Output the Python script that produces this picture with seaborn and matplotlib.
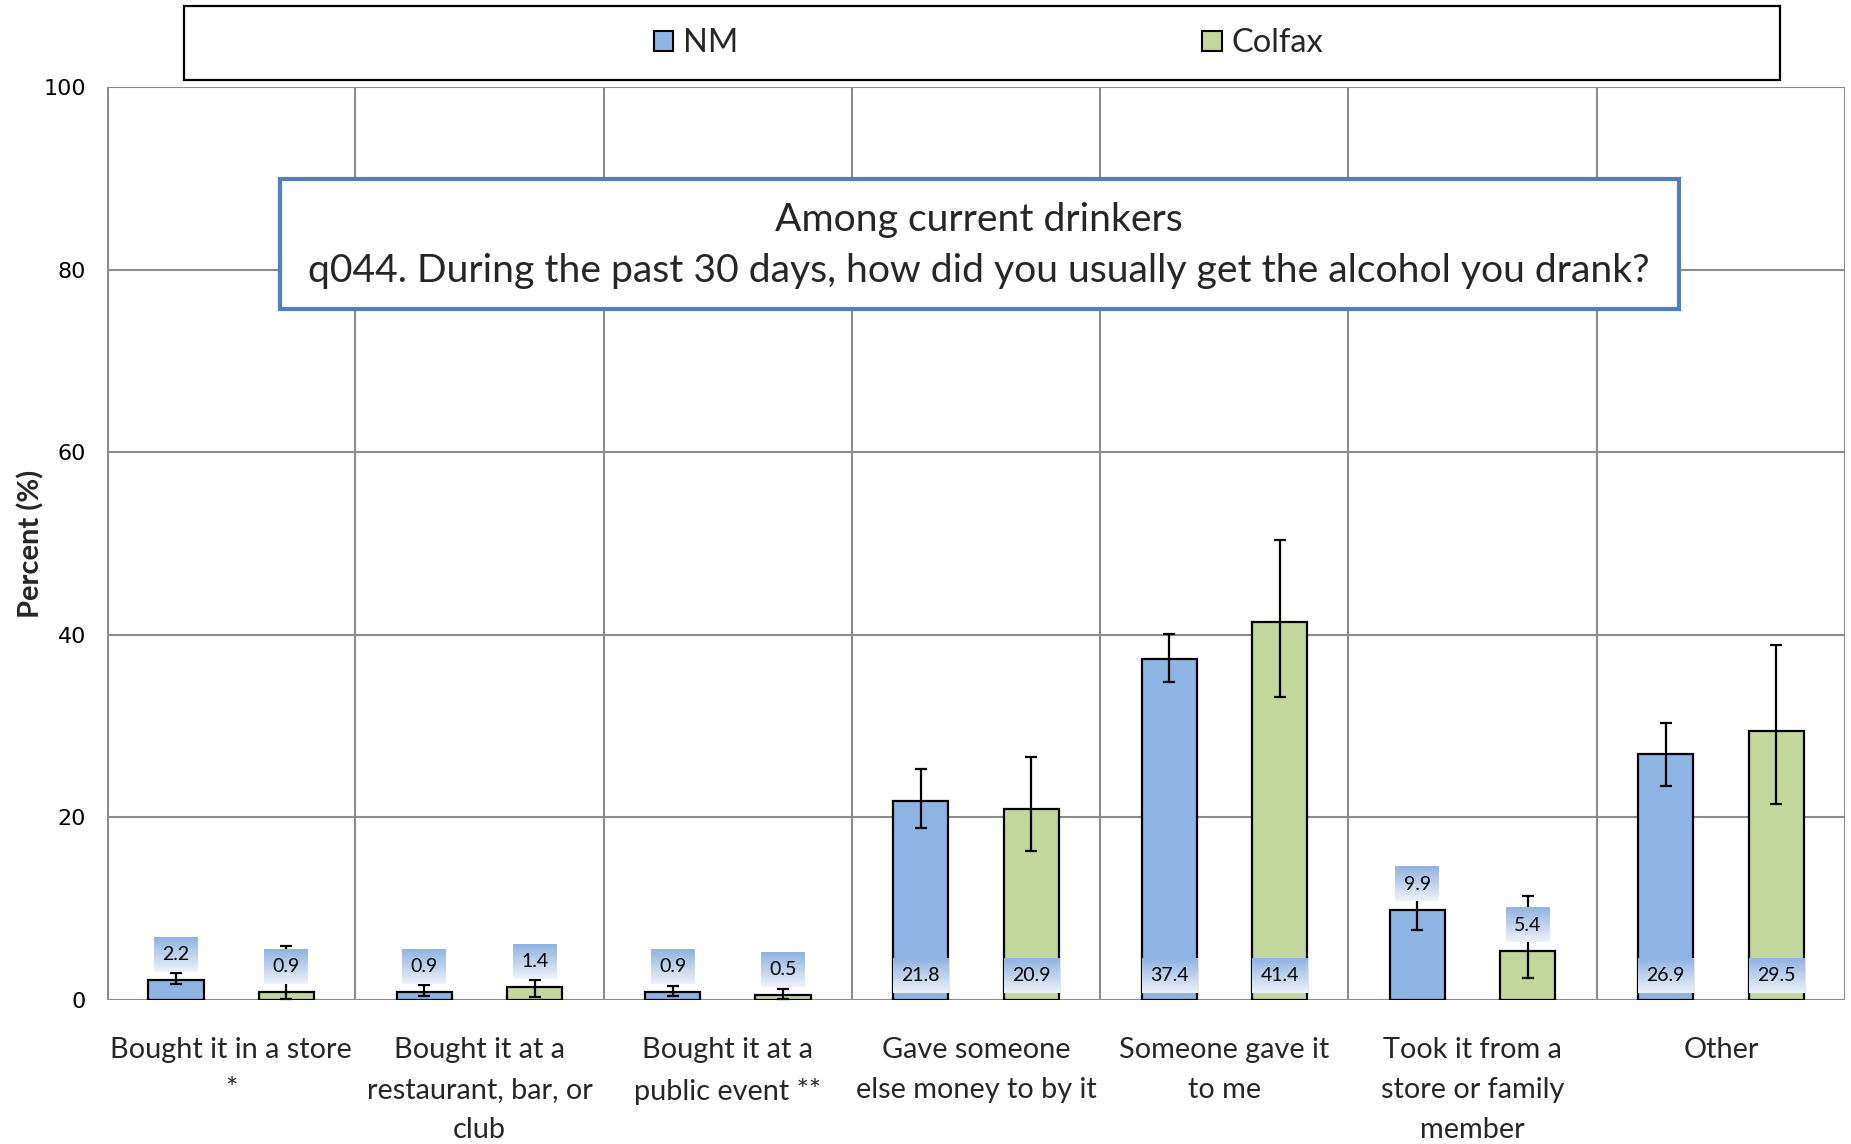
import numpy as np
import pandas as pd
import matplotlib
matplotlib.use("Agg")
import matplotlib.pyplot as plt
from matplotlib.patches import Rectangle
import seaborn as sns

# ---- data -------------------------------------------------------------
categories = [
    "Bought it in a store\n*",
    "Bought it at a\nrestaurant, bar, or\nclub",
    "Bought it at a\npublic event **",
    "Gave someone\nelse money to by it",
    "Someone gave it\nto me",
    "Took it from a\nstore or family\nmember",
    "Other",
]
sites = ["NM", "Colfax"]
nm_pct = [2.2, 0.9, 0.9, 21.8, 37.4, 9.9, 26.9]
colfax_pct = [0.9, 1.4, 0.5, 20.9, 41.4, 5.4, 29.5]
nm_lo = [1.7, 0.4, 0.45, 18.8, 34.8, 7.7, 23.4]
nm_hi = [3.0, 1.6, 1.5, 25.3, 40.1, 12.0, 30.4]
colfax_lo = [0.1, 0.35, 0.1, 16.3, 33.2, 2.4, 21.5]
colfax_hi = [5.9, 2.2, 1.25, 26.6, 50.4, 11.4, 38.9]
yticks = [0, 20, 40, 60, 80, 100]

title_lines = ["Among current drinkers",
               "q044. During the past 30 days, how did you usually get the alcohol you drank?"]

colors = {"NM": "#8EB4E3", "Colfax": "#C3D69B"}

df = pd.DataFrame({
    "category": categories * 2,
    "site": ["NM"] * len(categories) + ["Colfax"] * len(categories),
    "percent": nm_pct + colfax_pct,
})

# ---- figure -----------------------------------------------------------
sns.set_theme(style="white")
plt.rcParams["font.family"] = ["Lato", "DejaVu Sans"]

fig = plt.figure(figsize=(18.51, 11.44), dpi=100)
ax = fig.add_axes([0.0578, 0.1259, 0.9390, 0.7977])

sns.barplot(data=df, x="category", y="percent", hue="site", order=categories,
            hue_order=sites, palette=colors, width=0.889, gap=0.5,
            edgecolor="black", linewidth=1.6, errorbar=None, saturation=1,
            ax=ax, zorder=2)
bar_groups = list(ax.containers)

ax.set_xlim(-0.5, len(categories) - 0.5)
ax.set_ylim(0, 100)

# grid: horizontal at y ticks, vertical at category boundaries
grid_c = "#8C8C8C"
ax.set_yticks(yticks)
ax.set_yticklabels([str(t) for t in yticks], family="DejaVu Sans", fontsize=16)
ax.yaxis.grid(True, color=grid_c, linewidth=1.5, zorder=0)
bounds = np.arange(-0.5, len(categories), 1.0)
ax.set_xticks(bounds, minor=True)
ax.xaxis.grid(True, which="minor", color=grid_c, linewidth=1.5, zorder=0)
ax.xaxis.grid(False, which="major")
ax.set_axisbelow(True)
ax.tick_params(axis="x", which="minor", length=8, width=1.5, color=grid_c, direction="out")
ax.tick_params(axis="x", which="major", length=0, pad=27)
ax.tick_params(axis="y", length=8, width=1.5, color=grid_c, direction="out", pad=7,
               labelcolor="black")
for lbl in ax.get_xticklabels():
    lbl.set_fontsize(20.8)
    lbl.set_linespacing(1.66)
    lbl.set_verticalalignment("top")
for s in ax.spines.values():
    s.set_visible(False)
ax.axhline(0, color=grid_c, linewidth=2.2, zorder=1)
ax.axvline(-0.5, color=grid_c, linewidth=2.2, zorder=1)

ax.set_xlabel("")
ax.set_ylabel("Percent (%)", fontsize=21, fontweight="bold", labelpad=-1)

# ---- error bars and value labels --------------------------------------
lows = [nm_lo, colfax_lo]
highs = [nm_hi, colfax_hi]
vals = [nm_pct, colfax_pct]
grad = np.linspace(0, 1, 64)[:, None, None]
top_c = np.array(matplotlib.colors.to_rgb("#8FB3E2"))
bot_c = np.array(matplotlib.colors.to_rgb("#EEF2FA"))
grad_img = top_c * (1 - grad) + bot_c * grad

for k, cont in enumerate(bar_groups):
    xs = [p.get_x() + p.get_width() / 2 for p in cont.patches]
    ws = [p.get_width() for p in cont.patches]
    v = np.array(vals[k])
    lo = np.array(lows[k])
    hi = np.array(highs[k])
    ax.errorbar(xs, v, yerr=[v - lo, hi - v], fmt="none", ecolor="black",
                elinewidth=1.6, capsize=4.5, capthick=1.6, zorder=3)
    for x, w, val in zip(xs, ws, v):
        if val < 15:
            yc = val + 2.8
            y0, y1 = yc - 1.9, yc + 1.9
            bw = 0.177
        else:
            y0, y1 = 0.8, 4.6
            yc = (y0 + y1) / 2
            bw = w
        ax.imshow(grad_img, extent=(x - bw / 2, x + bw / 2, y0, y1),
                  aspect="auto", origin="upper", zorder=4, interpolation="bilinear")
        ax.text(x, yc, f"{val:.1f}", ha="center", va="center", fontsize=14,
                color="black", zorder=5)

ax.set_xlim(-0.5, len(categories) - 0.5)
ax.set_ylim(0, 100)

# ---- question box ------------------------------------------------------
fig.add_artist(Rectangle((0.151, 0.730), 0.756, 0.1135, transform=fig.transFigure,
                         facecolor="white", edgecolor="#4F81BD", linewidth=3, zorder=10))
fig.text(0.529, 0.808, title_lines[0], ha="center", va="center", fontsize=28.2, zorder=11)
fig.text(0.529, 0.763, title_lines[1], ha="center", va="center", fontsize=28.2, zorder=11)

# ---- legend ------------------------------------------------------------
fig.add_artist(Rectangle((0.0994, 0.930), 0.8622, 0.0647, transform=fig.transFigure,
                         facecolor="white", edgecolor="black", linewidth=1.6, zorder=-1))
sns.move_legend(ax, loc="center", bbox_to_anchor=(0.534, 0.962),
                bbox_transform=fig.transFigure, ncol=2, frameon=False, title=None,
                fontsize=23.5, columnspacing=14.2, handlelength=0.6, handleheight=0.6,
                handletextpad=0.3)
leg = ax.get_legend()
leg.set_zorder(20)
for h in leg.legend_handles:
    h.set_edgecolor("black")
    h.set_linewidth(1.5)

fig.savefig("out.png", dpi=100)
